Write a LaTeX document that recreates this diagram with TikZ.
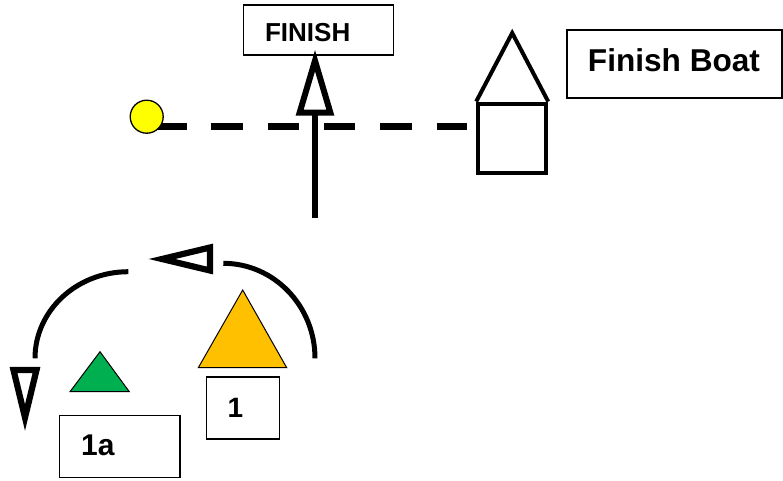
\documentclass[tikz,border=0pt]{standalone}
\usepackage{fontspec}
\setmainfont{Liberation Sans}
\usetikzlibrary{arrows.meta}

\definecolor{markgreen}{RGB}{0,176,80}
\definecolor{markorange}{RGB}{255,192,0}
\definecolor{pinyellow}{RGB}{255,255,0}

\tikzset{
  markbox/.style={draw=black, line width=1.2pt, rectangle, inner sep=0pt},
  lbl/.style={font=\bfseries\fontsize{#1}{#1}\selectfont, inner sep=0pt},
  boatline/.style={line width=4pt, line join=miter},
  finline/.style={line width=7pt, dash pattern=on 31.5pt off 24.8pt},
  finarrow/.style={line width=6pt, shorten >=-6pt, -{Triangle[open, length=66pt, width=37pt, line width=6pt]}},
  roundarc/.style={line width=5pt},
  roundtip/.style={line width=6.2pt, line join=miter, miter limit=20},
  buoy/.style={draw=black, line width=1pt},
}

\begin{document}
\begin{tikzpicture}[x=1pt,y=1pt,yscale=-1]
\useasboundingbox (0,0) rectangle (783,480);

%Shape: Finish line
\coordinate (linestart) at (155,126.7);
\coordinate (lineend) at (467,126.7);
\draw [finline] (linestart) -- (lineend);

%Shape: Pin end
\node [circle, draw=black, line width=1.3pt, fill=pinyellow, minimum size=33pt, inner sep=0pt] (pin) at (146.7,116.7) {};

%Shape: Finish boat
\node [boatline, draw=black, rectangle, minimum width=68pt, minimum height=69.5pt, inner sep=0pt] (hull) at (512.2,138.3) {};
\draw [boatline] (hull.north west) -- (512.2,33) -- (hull.north east);

% Text Node
\node [markbox, minimum width=150pt, minimum height=50pt] (finishbox) at (318.3,30) {};
\node [lbl=26] (finishlbl) at (307.7,32.5) {FINISH};

% Text Node
\node [markbox, minimum width=215pt, minimum height=68pt] (boatbox) at (674.5,64) {};
\node [lbl=31.6] (boatlbl) at (674,60) {Finish Boat};

%Shape: Approach arrow
\coordinate (approach) at (315,218);
\draw [finarrow] (approach) -- (approach |- finishbox.south);

%Shape: Rounding arcs
\draw [roundarc] (128.3,271.7) arc [start angle=270, end angle=180, x radius=93.3, y radius=86.6];
\draw [roundarc] (223.3,263.3) arc [start angle=270, end angle=360, x radius=91.7, y radius=95];

%Shape: Rounding arrowheads
\draw [roundtip] (162,259) -- (210,247.5) -- (210,270.5) -- cycle;
\draw [roundtip] (25,417.5) -- (13.5,370) -- (36.5,370) -- cycle;

%Shape: Marks
\draw [buoy, fill=markgreen] (100,351.7) -- (70,391.7) -- (129.3,391.7) -- cycle;
\draw [buoy, fill=markorange] (242.7,290) -- (198.3,367.7) -- (286.7,367.7) -- cycle;

% Text Node
\node [markbox, minimum width=72.6pt, minimum height=62pt] (markonebox) at (243,408) {};
\node [lbl=28] (markonelbl) at (235.5,408.3) {1};

% Text Node
\node [markbox, minimum width=120.7pt, minimum height=61.6pt] (markoneabox) at (119.7,446.5) {};
\node [lbl=30] (markonealbl) at (97.8,445.5) {1a};
\end{tikzpicture}
\end{document}
